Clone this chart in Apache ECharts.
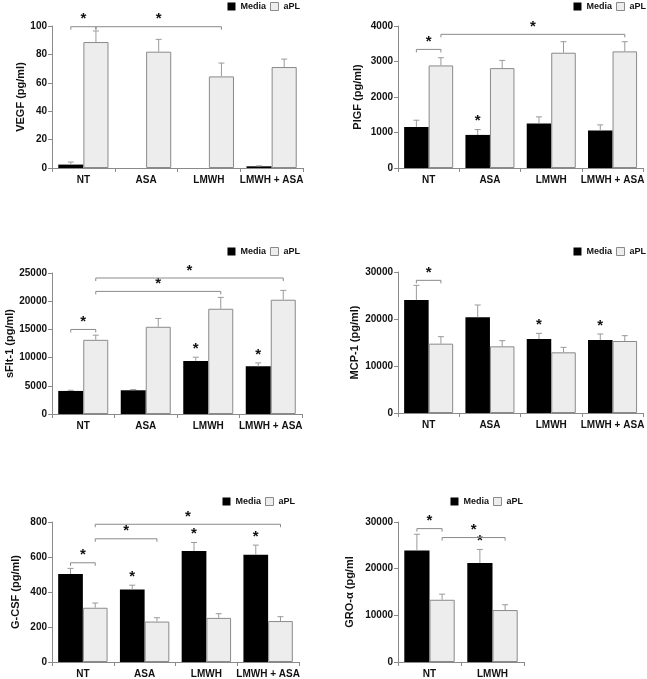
<!DOCTYPE html>
<html><head><meta charset="utf-8">
<script src="https://cdn.jsdelivr.net/npm/echarts@6/dist/echarts.min.js"></script>
<style>html,body{margin:0;padding:0;background:#fff}#c{width:647px;height:679px}</style>
</head><body><div id="c"></div>
<script>
// ---- categories ----
const cats4 = ['NT', 'ASA', 'LMWH', 'LMWH + ASA'];
const cats2 = ['NT', 'LMWH'];

// ---- VEGF ----
const vegfMedia = [2.4, 0, 0, 1.2];
const vegfMediaErr = [1.8, 0, 0, 0.3];
const vegfAPL = [88.7, 81.9, 64.5, 71.1];
const vegfAPLErr = [7.8, 8.7, 9.4, 5.6];
const vegfStars = [];                       // [category, series(0 Media / 1 aPL)]
const vegfBrackets = [[0, 0, 0, 1, 99.5], [0, 1, 2, 1, 99.5]]; // [cat1, ser1, cat2, ser2, level]

// ---- PlGF ----
const plgfMedia = [1158, 932, 1252, 1054];
const plgfMediaErr = [188, 150, 188, 160];
const plgfAPL = [2889, 2814, 3247, 3285];
const plgfAPLErr = [217, 217, 311, 273];
const plgfStars = [[1, 0]];
const plgfBrackets = [[0, 0, 0, 1, 3341], [0, 1, 3, 1, 3765]];

// ---- sFlt-1 ----
const sfltMedia = [4088, 4206, 9419, 8472];
const sfltMediaErr = [118, 119, 652, 592];
const sfltAPL = [13152, 15462, 18661, 20260];
const sfltAPLErr = [829, 1481, 2014, 1659];
const sfltStars = [[2, 0], [3, 0]];
const sfltBrackets = [[0, 0, 0, 1, 14988], [0, 1, 2, 1, 21742], [0, 1, 3, 1, 24111]];

// ---- MCP-1 ----
const mcpMedia = [24043, 20355, 15745, 15532];
const mcpMediaErr = [3120, 2624, 1205, 1277];
const mcpAPL = [14752, 14184, 12908, 15319];
const mcpAPLErr = [1489, 1206, 1064, 1135];
const mcpStars = [[2, 0], [3, 0]];
const mcpBrackets = [[0, 0, 0, 1, 28227]];

// ---- G-CSF ----
const gcsfMedia = [503, 414, 635, 613];
const gcsfMediaErr = [32, 25, 48, 55];
const gcsfAPL = [310, 231, 252, 234];
const gcsfAPLErr = [27, 22, 24, 25];
const gcsfStars = [[1, 0], [2, 0], [3, 0]];
const gcsfBrackets = [[0, 0, 0, 1, 567], [0, 1, 1, 1, 704], [0, 1, 3, 1, 787]];

// ---- GRO-alpha ----
const groMedia = [23901, 21206];
const groMediaErr = [3475, 2907];
const groAPL = [13333, 11135];
const groAPLErr = [1206, 1135];
const groStars = [[1, 0]];
const groBrackets = [[0, 0, 0, 1, 28582], [0, 1, 1, 1, 26667]];

// ---- axis settings ----
const yTitles = ['VEGF (pg/ml)', 'PlGF (pg/ml)', 'sFlt-1 (pg/ml)', 'MCP-1 (pg/ml)', 'G-CSF (pg/ml)', 'GRO-\u03b1 (pg/ml'];
const yMax = [100, 4000, 25000, 30000, 800, 30000];
const yStep = [20, 1000, 5000, 10000, 200, 10000];

const panels = [
  {cats: cats4, m: vegfMedia, me: vegfMediaErr, a: vegfAPL, ae: vegfAPLErr, stars: vegfStars, br: vegfBrackets},
  {cats: cats4, m: plgfMedia, me: plgfMediaErr, a: plgfAPL, ae: plgfAPLErr, stars: plgfStars, br: plgfBrackets},
  {cats: cats4, m: sfltMedia, me: sfltMediaErr, a: sfltAPL, ae: sfltAPLErr, stars: sfltStars, br: sfltBrackets},
  {cats: cats4, m: mcpMedia, me: mcpMediaErr, a: mcpAPL, ae: mcpAPLErr, stars: mcpStars, br: mcpBrackets},
  {cats: cats4, m: gcsfMedia, me: gcsfMediaErr, a: gcsfAPL, ae: gcsfAPLErr, stars: gcsfStars, br: gcsfBrackets},
  {cats: cats2, m: groMedia, me: groMediaErr, a: groAPL, ae: groAPLErr, stars: groStars, br: groBrackets}
];

// layout
const grids = [
  {left: 52, top: 26, width: 251, height: 142},
  {left: 398, top: 26, width: 248, height: 142},
  {left: 52, top: 273, width: 250, height: 141},
  {left: 398, top: 272, width: 248, height: 141},
  {left: 52, top: 522, width: 247, height: 141},
  {left: 398, top: 522, width: 126, height: 141}
];
const nameGaps = [26, 35, 33, 38, 31, 43];
const legendPos = [
  {right: 347, top: 2}, {right: 1, top: 2},
  {right: 347, top: 247}, {right: 1, top: 247},
  {right: 352, top: 497}, {right: 124, top: 497}
];

const FONT = '"Liberation Sans", Arial, sans-serif';
const AX = '#8a8a8a';
const TXT = '#111';

function sideOffset(api, s) {
  const band = api.size([1, 0])[0];
  return (s === 0 ? -1 : 1) * band * 0.2;
}

function errRender(params, api) {
  const c = api.value(0), s = api.value(1), v = api.value(2), e = api.value(3);
  if (!(e > 0)) return null;
  const base = api.coord([c, v]);
  const top = api.coord([c, v + e]);
  const x = base[0] + sideOffset(api, s);
  return {type: 'group', children: [
    {type: 'line', shape: {x1: x, y1: base[1], x2: x, y2: top[1]}, style: {stroke: '#9a9a9a', lineWidth: 1}},
    {type: 'line', shape: {x1: x - 3, y1: top[1], x2: x + 3, y2: top[1]}, style: {stroke: '#9a9a9a', lineWidth: 1}}
  ]};
}

function starRender(params, api) {
  const c = api.value(0), s = api.value(1), t = api.value(2);
  const p = api.coord([c, t]);
  const x = p[0] + sideOffset(api, s);
  return {type: 'text', x: x, y: p[1] - 1,
    style: {text: '*', fill: '#111', font: 'bold 15px ' + FONT, textAlign: 'center', textVerticalAlign: 'bottom'}};
}

function bracketRender(params, api) {
  const c1 = api.value(0), s1 = api.value(1), c2 = api.value(2), s2 = api.value(3), lv = api.value(4);
  const p1 = api.coord([c1, lv]), p2 = api.coord([c2, lv]);
  const x1 = p1[0] + sideOffset(api, s1), x2 = p2[0] + sideOffset(api, s2);
  const y = p1[1];
  return {type: 'group', children: [
    {type: 'polyline', shape: {points: [[x1, y + 3], [x1, y], [x2, y], [x2, y + 3]]},
      style: {stroke: '#8a8a8a', lineWidth: 1, fill: null}},
    {type: 'text', x: (x1 + x2) / 2, y: y,
      style: {text: '*', fill: '#111', font: 'bold 15px ' + FONT, textAlign: 'center', textVerticalAlign: 'bottom'}}
  ]};
}

const option = {
  animation: false,
  backgroundColor: '#fff',
  grid: grids.map(g => Object.assign({containLabel: false}, g)),
  legend: legendPos.map(p => Object.assign({
    orient: 'horizontal', icon: 'rect',
    data: [
      {name: 'Media', itemStyle: {color: '#000', borderWidth: 0}},
      {name: 'aPL', itemStyle: {color: '#ededed', borderColor: '#8a8a8a', borderWidth: 1}}
    ],
    itemWidth: 8, itemHeight: 8, itemGap: 4, selectedMode: false, padding: 0,
    textStyle: {fontFamily: FONT, fontWeight: 'bold', fontSize: 9, color: TXT}
  }, p)),
  xAxis: panels.map((p, i) => ({
    type: 'category', gridIndex: i, data: p.cats,
    axisLine: {lineStyle: {color: AX}},
    axisTick: {show: true, length: 4, lineStyle: {color: AX}},
    axisLabel: {interval: 0, margin: 7, fontFamily: FONT, fontWeight: 'bold', fontSize: 10, color: TXT}
  })),
  yAxis: panels.map((p, i) => ({
    type: 'value', gridIndex: i, min: 0, max: yMax[i], interval: yStep[i],
    name: yTitles[i], nameLocation: 'middle', nameGap: nameGaps[i],
    nameTextStyle: {fontFamily: FONT, fontWeight: 'bold', fontSize: 11, color: TXT},
    axisLine: {show: true, lineStyle: {color: AX}},
    axisTick: {show: true, length: 4, lineStyle: {color: AX}},
    splitLine: {show: false},
    axisLabel: {margin: 5, fontFamily: FONT, fontWeight: 'bold', fontSize: 10, color: TXT,
      formatter: v => String(v)}
  })),
  series: []
};

panels.forEach((p, i) => {
  option.series.push({
    type: 'bar', name: 'Media', xAxisIndex: i, yAxisIndex: i, data: p.m,
    barGap: '0%', barCategoryGap: '20%',
    itemStyle: {color: '#000', borderColor: '#000', borderWidth: 0}
  });
  option.series.push({
    type: 'bar', name: 'aPL', xAxisIndex: i, yAxisIndex: i, data: p.a,
    barGap: '0%', barCategoryGap: '20%',
    itemStyle: {color: '#ededed', borderColor: '#8a8a8a', borderWidth: 1}
  });
  const errData = [];
  p.cats.forEach((c, k) => {
    errData.push([k, 0, p.m[k], p.me[k]]);
    errData.push([k, 1, p.a[k], p.ae[k]]);
  });
  option.series.push({
    type: 'custom', xAxisIndex: i, yAxisIndex: i, renderItem: errRender,
    data: errData, z: 3, silent: true
  });
  option.series.push({
    type: 'custom', xAxisIndex: i, yAxisIndex: i, renderItem: starRender, z: 4, silent: true,
    data: p.stars.map(st => [st[0], st[1],
      st[1] === 0 ? p.m[st[0]] + p.me[st[0]] : p.a[st[0]] + p.ae[st[0]]])
  });
  option.series.push({
    type: 'custom', xAxisIndex: i, yAxisIndex: i, renderItem: bracketRender, z: 4, silent: true,
    data: p.br
  });
});

const chart = echarts.init(document.getElementById('c'), null, {renderer: 'canvas'});
chart.setOption(option);
</script>
</body></html>
